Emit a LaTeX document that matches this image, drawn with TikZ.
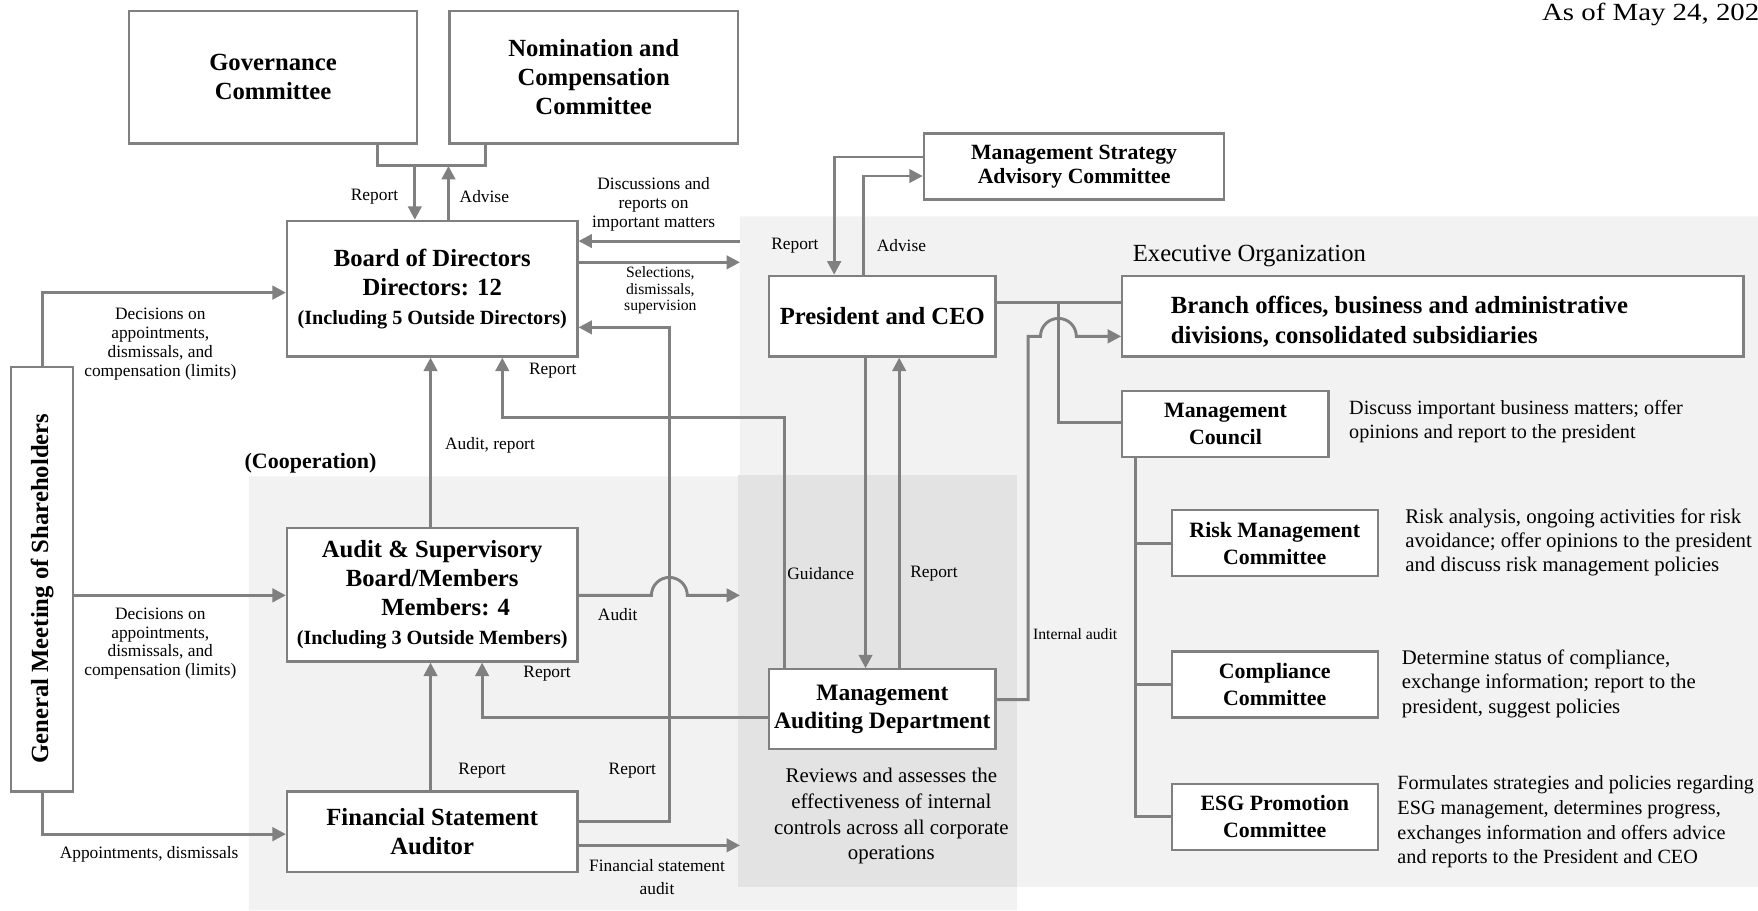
\documentclass[tikz,border=0pt]{standalone}
\usepackage{fontspec}
\usepackage{graphicx}
\setmainfont{Liberation Serif}
\usetikzlibrary{arrows.meta}
\definecolor{lnc}{HTML}{808080}
\definecolor{bgl}{HTML}{F2F2F2}
\definecolor{bgd}{HTML}{E3E3E3}
\begin{document}
\begin{tikzpicture}[x=0.5pt,y=-0.5pt,
  box/.style={draw=lnc, line width=1pt, fill=white, inner sep=0pt, align=center, font=\bfseries\fontsize{11}{13}\selectfont},
  cbox/.style={box, font=\bfseries\fontsize{9.75}{12}\selectfont, minimum width=92pt, minimum height=29.5pt},
  ln/.style={draw=lnc, line width=1.3pt},
  arr/.style={ln, -{Triangle[length=6pt,width=6pt]}},
  lbl/.style={font=\fontsize{7.75}{8.4}\selectfont, align=center, inner sep=0pt},
  lbls/.style={font=\fontsize{7}{7.4}\selectfont, align=center, inner sep=0pt},
  desc/.style={font=\fontsize{9}{10.75}\selectfont, align=left, inner sep=0pt, anchor=west},
  mdesc/.style={font=\fontsize{9.3}{11.5}\selectfont, align=center, inner sep=0pt}
]
\useasboundingbox (0,0) rectangle (1568,812);
% backgrounds
\fill[bgl] (660,193) -- (1568,193) -- (1568,791) -- (907,791) -- (907,812) -- (222,812) -- (222,425) -- (660,425) -- cycle;
\fill[bgd] (658,424) rectangle (907,791);

% boxes
\node[box, minimum width=128.5pt, minimum height=59pt] (gov) at (243.5,69) {Governance\\Committee};
\node[box, minimum width=128.5pt, minimum height=59pt] (nom) at (529.5,69) {Nomination and\\Compensation\\Committee};
\node[box, minimum width=129.5pt, minimum height=60.5pt] (board) at (385.5,257.5) {Board of Directors\\Directors: 12\\{\fontsize{9}{11}\selectfont(Including 5 Outside Directors)}};
\node[box, minimum width=27.5pt, minimum height=189.5pt] (gm) at (37.5,516.5) {};
\node[rotate=90, font=\bfseries\fontsize{11}{13}\selectfont, inner sep=0pt] (gmtxt) at (37.5,525) {General Meeting of Shareholders};
\node[box, minimum width=129.5pt, minimum height=59.5pt] (asb) at (385.5,530.5) {Audit \& Supervisory\\Board/Members\\\hspace*{12pt}Members: 4\\{\fontsize{9}{11}\selectfont(Including 3 Outside Members)}};
\node[box, minimum width=129.5pt, minimum height=36pt] (fsa) at (385.5,742) {Financial Statement\\Auditor};
\node[box, minimum width=134pt, minimum height=29.5pt, font=\bfseries\fontsize{9.7}{11}\selectfont] (msac) at (958,148.5) {Management Strategy\\Advisory Committee};
\node[box, minimum width=101pt, minimum height=36pt] (pres) at (787,282) {President and CEO};
\node[box, minimum width=101pt, minimum height=35.5pt, font=\bfseries\fontsize{10.5}{12.5}\selectfont] (mad) at (787,632.5) {Management\\Auditing Department};
\node[box, minimum width=277pt, minimum height=36pt] (branch) at (1278,282) {};
\node[anchor=west, align=left, font=\bfseries\fontsize{11}{13}\selectfont, inner sep=0pt] (branchtxt) at (1044,287) {Branch offices, business and administrative\\divisions, consolidated subsidiaries};
\node[cbox] (council) at (1093,378) {Management\\Council};
\node[cbox] (risk) at (1137,484.5) {Risk Management\\Committee};
\node[cbox] (comp) at (1137,610.5) {Compliance\\Committee};
\node[cbox] (esg) at (1137,728.5) {ESG Promotion\\Committee};

% descriptions
\node[desc] (d1) at (1203,376) {Discuss important business matters; offer\\opinions and report to the president};
\node[desc, font=\fontsize{9.3}{10.75}\selectfont] (d2) at (1253,484) {Risk analysis, ongoing activities for risk\\avoidance; offer opinions to the president\\and discuss risk management policies};
\node[desc, font=\fontsize{9.25}{11}\selectfont] (d3) at (1250,610) {Determine status of compliance,\\exchange information; report to the\\president, suggest policies};
\node[desc, font=\fontsize{9}{11}\selectfont] (d4) at (1246,733) {Formulates strategies and policies regarding\\ESG management, determines progress,\\exchanges information and offers advice\\and reports to the President and CEO};
\node[mdesc] (d5) at (795,728) {Reviews and assesses the\\effectiveness of internal\\controls across all corporate\\operations};
\node[anchor=west, font=\fontsize{11}{13}\selectfont, inner sep=0pt] (exo) at (1010,228) {Executive Organization};
\node[anchor=west, font=\fontsize{11}{13}\selectfont, inner sep=0pt] (date) at (1375,13) {\scalebox{1.17}[1]{As of May 24, 2024}};
\node[font=\bfseries\fontsize{9.8}{12}\selectfont, inner sep=0pt] (coop) at (277,413) {(Cooperation)};

% connectors
\coordinate (jg) at (337,148); \coordinate (jn) at (433,148);
\draw[ln] (gov.south -| jg) -- (jg) -- (jn) -- (nom.south -| jn);
\coordinate (rep1) at (370,148); \coordinate (adv1) at (400,148);
\draw[arr] (rep1) -- (board.north -| rep1);
\draw[arr] (board.north -| adv1) -- (adv1);
\coordinate (disc) at (660,215); \draw[arr] (disc) -- (board.east |- disc);
\coordinate (sel) at (660,234); \draw[arr] (board.east |- sel) -- (sel);

\coordinate (gm1) at (38,261); \draw[arr] (gm.north) |- (board.west |- gm1);
\coordinate (gm2) at (0,531); \draw[arr] (gm.east |- gm2) -- (asb.west |- gm2);
\coordinate (gm3) at (0,744); \draw[arr] (gm.south) |- (fsa.west |- gm3);

\coordinate (cx1) at (384,0);
\draw[arr] (asb.north -| cx1) -- (board.south -| cx1);
\draw[arr] (fsa.north -| cx1) -- (asb.south -| cx1);

\coordinate (mb1) at (700,372); \coordinate (mb2) at (448,372);
\draw[arr] (mad.north -| mb1) -- (mb1) -- (mb2) -- (board.south -| mb2);
\coordinate (ma1) at (430,640);
\draw[arr] (mad.west |- ma1) -- (ma1) -- (asb.south -| ma1);
\coordinate (fb1) at (597,733); \coordinate (fb2) at (597,292);
\draw[arr] (fsa.east |- fb1) -- (fb1) -- (fb2) -- (board.east |- fb2);
\coordinate (au1) at (581,531); \coordinate (au2) at (660,531);
\draw[arr] (asb.east |- au1) -- (au1) arc[start angle=180, end angle=360, radius=16] -- (au2);
\coordinate (fa) at (660,754); \draw[arr] (fsa.east |- fa) -- (fa);

\coordinate (ms1) at (744,140); \draw[arr] (msac.west |- ms1) -- (ms1) -- (pres.north -| ms1);
\coordinate (ms2) at (770,157); \draw[arr] (pres.north -| ms2) -- (ms2) -- (msac.west |- ms2);
\coordinate (g1) at (772,0); \draw[arr] (pres.south -| g1) -- (mad.north -| g1);
\coordinate (g2) at (802,0); \draw[arr] (mad.north -| g2) -- (pres.south -| g2);

\coordinate (pb) at (0,270); \draw[ln] (pres.east |- pb) -- (branch.west |- pb);
\coordinate (pv) at (944,270); \coordinate (pv2) at (944,377);
\draw[ln] (pv) -- (pv2) -- (council.west |- pv2);
\coordinate (ia1) at (917,624); \coordinate (ia2) at (917,300); \coordinate (ia3) at (928,300);
\draw[arr] (mad.east |- ia1) -- (ia1) -- (ia2) -- (ia3) arc[start angle=180, end angle=360, radius=16] -- (branch.west |- ia2);

\coordinate (ct) at (1013,0);
\draw[ln] (council.south -| ct) |- (esg.west);
\draw[ln] (risk.west -| ct) -- (risk.west);
\draw[ln] (comp.west -| ct) -- (comp.west);

% labels
\node[lbl] (l1) at (334,175) {Report};
\node[lbl] (l2) at (432,175) {Advise};
\node[lbl] (l3) at (583,182) {Discussions and\\reports on\\important matters};
\node[lbls] (l4) at (589,259) {Selections,\\dismissals,\\supervision};
\node[lbl] (l5) at (143,307) {Decisions on\\appointments,\\dismissals, and\\compensation (limits)};
\node[lbl] (l6) at (143,574) {Decisions on\\appointments,\\dismissals, and\\compensation (limits)};
\node[lbl] (l7) at (133,762) {Appointments, dismissals};
\node[lbl] (l8) at (493,331) {Report};
\node[lbl] (l9) at (437,397) {Audit, report};
\node[lbl] (l10) at (551,548) {Audit};
\node[lbl] (l11) at (488,601) {Report};
\node[lbl] (l12) at (430,687) {Report};
\node[lbl] (l13) at (564,687) {Report};
\node[lbl] (l14) at (586,782) {Financial statement\\[2pt]audit};
\node[lbl] (l15) at (709,219) {Report};
\node[lbl] (l16) at (804,219) {Advise};
\node[lbl] (l17) at (732,512) {Guidance};
\node[lbl] (l18) at (833,512) {Report};
\node[lbls] (l19) at (959,566) {Internal audit};
\end{tikzpicture}
\end{document}
